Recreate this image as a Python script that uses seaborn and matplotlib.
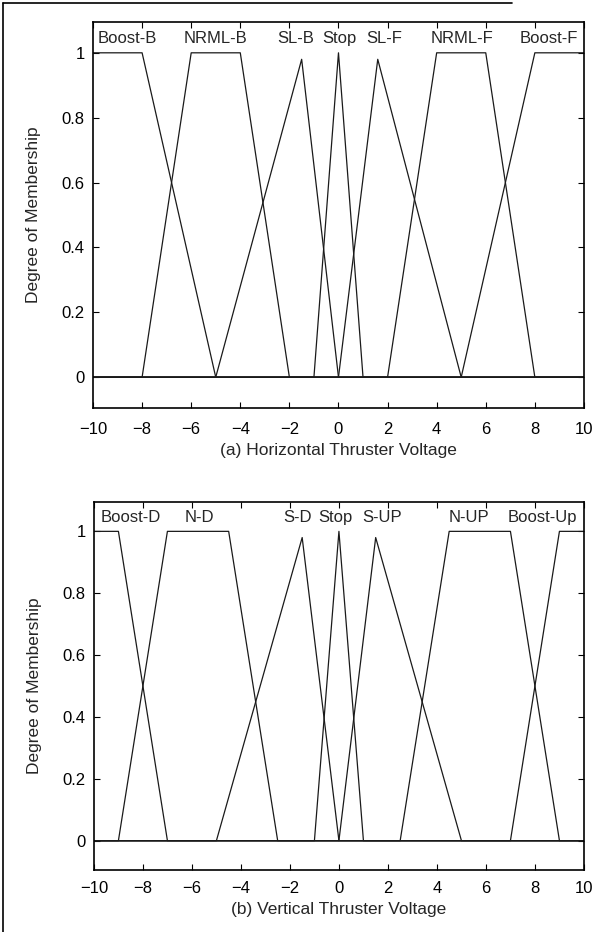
import numpy as np
import pandas as pd
import seaborn as sns
import matplotlib.pyplot as plt
from matplotlib.lines import Line2D

# ==========================================
# 1. DADOS (pontos de quebra das funções de pertinência)
# ==========================================
h_names = ['Boost-B', 'NRML-B', 'SL-B', 'Stop', 'SL-F', 'NRML-F', 'Boost-F']
h_x = [
    [-10, -8, -5, 10],
    [-10, -8, -6, -4, -2, 10],
    [-10, -5, -1.5, 0, 10],
    [-10, -1, 0, 1, 10],
    [-10, 0, 1.6, 5, 10],
    [-10, 2, 4, 6, 8, 10],
    [-10, 5, 8, 10],
]
h_y = [
    [1, 1, 0, 0],
    [0, 0, 1, 1, 0, 0],
    [0, 0, 0.98, 0, 0],
    [0, 0, 1, 0, 0],
    [0, 0, 0.98, 0, 0],
    [0, 0, 1, 1, 0, 0],
    [0, 0, 1, 1],
]
h_label_x = [-8.6, -5.0, -1.75, 0.05, 1.85, 5.05, 8.55]

v_names = ['Boost-D', 'N-D', 'S-D', 'Stop', 'S-UP', 'N-UP', 'Boost-Up']
v_x = [
    [-10, -9, -7, 10],
    [-10, -9, -7, -4.5, -2.5, 10],
    [-10, -5, -1.5, 0, 10],
    [-10, -1, 0, 1, 10],
    [-10, 0, 1.5, 5, 10],
    [-10, 2.5, 4.5, 7, 9, 10],
    [-10, 7, 9, 10],
]
v_y = [
    [1, 1, 0, 0],
    [0, 0, 1, 1, 0, 0],
    [0, 0, 0.98, 0, 0],
    [0, 0, 1, 0, 0],
    [0, 0, 0.98, 0, 0],
    [0, 0, 1, 1, 0, 0],
    [0, 0, 1, 1],
]
v_label_x = [-8.5, -5.7, -1.7, -0.15, 1.75, 5.3, 8.3]

x_ticks = [-10, -8, -6, -4, -2, 0, 2, 4, 6, 8, 10]
y_ticks = [0, 0.2, 0.4, 0.6, 0.8, 1]


def para_tabela(nomes, xs, ys):
    linhas = []
    for nome, xx, yy in zip(nomes, xs, ys):
        for i, (a, b) in enumerate(zip(xx, yy)):
            linhas.append({'nome': nome, 'ordem': i, 'x': a, 'mu': b})
    return pd.DataFrame(linhas)


df_h = para_tabela(h_names, h_x, h_y)
df_v = para_tabela(v_names, v_x, v_y)

# ==========================================
# 2. ESTILO
# ==========================================
sns.set_style('ticks')
plt.rcParams['font.family'] = ['Liberation Sans', 'DejaVu Sans']
plt.rcParams['axes.unicode_minus'] = True

fig = plt.figure(figsize=(6.02, 9.32), dpi=100)
ax1 = fig.add_axes([0.1545, 0.5622, 0.8155, 0.4142])
ax2 = fig.add_axes([0.1560, 0.0665, 0.8140, 0.3949])


def desenhar(ax, df, nomes, label_x, xlabel, pad):
    sns.lineplot(data=df, x='x', y='mu', units='nome', estimator=None,
                 sort=False, color='#1a1a1a', linewidth=0.9, ax=ax)
    for nome, lx in zip(nomes, label_x):
        ax.text(lx, 1.045, nome, ha='center', va='center', fontsize=12)
    ax.set_xlim(-10, 10)
    ax.set_ylim(-0.095, 1.095)
    ax.set_xticks(x_ticks)
    ax.set_yticks(y_ticks)
    ax.set_yticklabels(['0', '0.2', '0.4', '0.6', '0.8', '1'])
    ax.set_xticklabels([str(t).replace('-', '\u2212') for t in x_ticks])
    ax.tick_params(direction='in', length=4, width=0.8, top=True, right=True,
                   labelsize=12, colors='black')
    ax.tick_params(axis='x', pad=pad)
    ax.tick_params(axis='y', pad=6)
    for s in ax.spines.values():
        s.set_linewidth(1.2)
        s.set_color('black')
    ax.set_xlabel(xlabel, fontsize=12.5, labelpad=4.5)
    ax.set_ylabel('Degree of Membership', fontsize=12.5, labelpad=15)


desenhar(ax1, df_h, h_names, h_label_x, '(a) Horizontal Thruster Voltage', 10)
desenhar(ax2, df_v, v_names, v_label_x, '(b) Vertical Thruster Voltage', 8)

# bordas da página digitalizada
fig.add_artist(Line2D([0.005, 0.005], [0.0, 0.997], transform=fig.transFigure,
                      color='black', linewidth=1.2))
fig.add_artist(Line2D([0.005, 0.85], [0.997, 0.997], transform=fig.transFigure,
                      color='black', linewidth=1.2))

plt.savefig('out.png', dpi=100)
